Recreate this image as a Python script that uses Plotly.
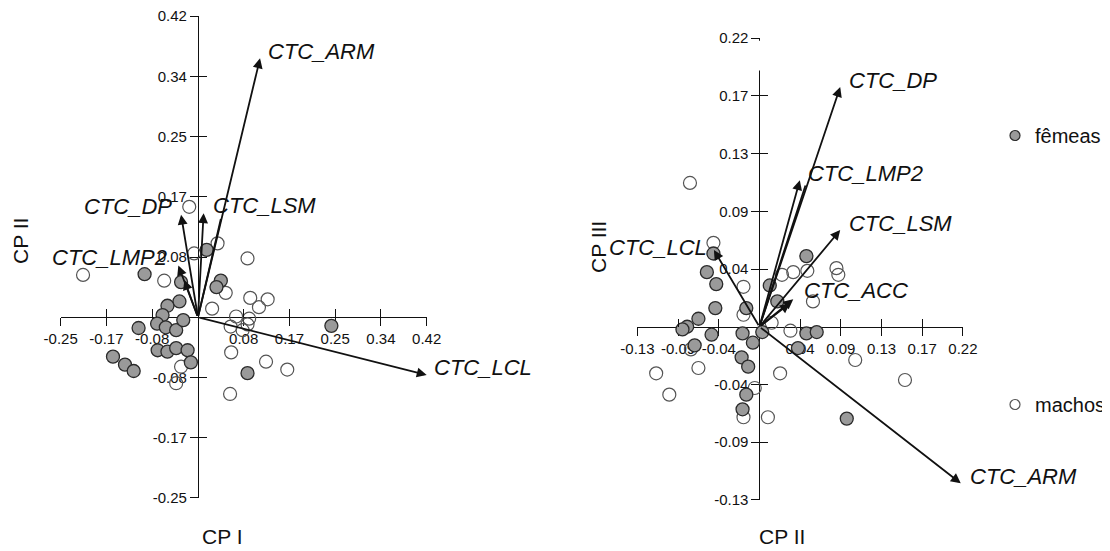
import plotly.graph_objects as go

# page offset: the figure sits 8 px in from the window's top-left corner
OFF = 8
W, H = 1110 - OFF, 551 - OFF

# ---------------- data ----------------
# tick marks (evenly spaced) and their printed labels
left_tickvals = [-0.252, -0.168, -0.084, 0.084, 0.168, 0.252, 0.336, 0.42]
left_ticktext = ["-0.25", "-0.17", "-0.08", "0.08", "0.17", "0.25", "0.34", "0.42"]
right_tickvals = [-0.13, -0.0867, -0.0433, 0.0433, 0.0867, 0.13, 0.1733, 0.2167]
right_ticktext = ["-0.13", "-0.09", "-0.04", "0.04", "0.09", "0.13", "0.17", "0.22"]
left_range = [-0.2522, 0.4202]
right_range = [-0.1302, 0.2169]

# variable loadings (arrows)  -- left panel: CP I x CP II
vars_left = ["CTC_LCL", "CTC_ARM", "CTC_DP", "CTC_LSM", "", "CTC_LMP2", ""]
load_left_cp1 = [0.420, 0.114, -0.031, 0.0104, 0.042, -0.036, -0.025]
load_left_cp2 = [-0.0805, 0.361, 0.143, 0.145, 0.137, 0.072, 0.052]

# right panel: CP II x CP III
vars_right = ["CTC_DP", "CTC_LMP2", "", "CTC_LSM", "CTC_LCL", "CTC_ACC", "", "CTC_ARM"]
load_right_cp2 = [0.086, 0.043, 0.049, 0.086, -0.0485, 0.036, 0.0325, 0.2144]
load_right_cp3 = [0.180, 0.110, 0.106, 0.0726, 0.0576, 0.0206, 0.0176, -0.1176]

# individual scores -- left panel
femeas_left_cp1 = [0.016, -0.098, 0.042, 0.034, -0.031, -0.034, -0.056, -0.065, -0.075,
                   -0.109, -0.059, -0.040, -0.027, -0.074, -0.056, -0.040, -0.019, -0.013,
                   -0.156, -0.134, -0.118, 0.091, 0.245]
femeas_left_cp2 = [0.094, 0.060, 0.051, 0.042, 0.049, 0.022, 0.016, 0.003, -0.009,
                   -0.015, -0.014, -0.018, -0.004, -0.046, -0.048, -0.043, -0.046, -0.063,
                   -0.055, -0.066, -0.075, -0.078, -0.012]
machos_left_cp1 = [-0.016, 0.036, 0.091, -0.007, -0.211, -0.062, 0.051, 0.026, 0.096,
                   0.128, 0.112, 0.070, 0.094, 0.060, 0.091, 0.082, 0.061, 0.125,
                   0.164, 0.059, -0.031, -0.040]
machos_left_cp2 = [0.154, 0.103, 0.082, 0.089, 0.059, 0.051, 0.034, 0.012, 0.027,
                   0.025, 0.014, 0.001, -0.002, -0.013, -0.010, -0.018, -0.049, -0.062,
                   -0.073, -0.107, -0.069, -0.092]

# individual scores -- right panel
femeas_right_cp2 = [-0.049, -0.056, -0.046, -0.047, -0.065, -0.077, -0.082, -0.051, -0.069,
                    -0.014, -0.018, -0.007, -0.019, -0.012, -0.014, -0.018, 0.050, 0.050,
                    0.061, 0.041, 0.093, 0.011, 0.019, 0.003]
femeas_right_cp3 = [0.055, 0.041, 0.032, 0.014, 0.006, 0.000, -0.002, -0.006, -0.014,
                    0.014, -0.005, -0.012, -0.023, -0.030, -0.051, -0.062, 0.053, -0.005,
                    -0.004, -0.016, -0.069, 0.031, 0.019, -0.004]
machos_right_cp2 = [-0.074, -0.049, -0.017, -0.017, -0.073, -0.065, -0.110, -0.096, -0.005,
                    -0.017, 0.009, 0.022, 0.033, 0.013, 0.024, 0.036, 0.051, 0.082,
                    0.084, 0.057, 0.102, 0.155]
machos_right_cp3 = [0.108, 0.063, 0.030, 0.009, -0.017, -0.031, -0.035, -0.051, -0.046,
                    -0.068, -0.068, -0.035, -0.003, 0.003, 0.039, 0.041, 0.042, 0.044,
                    0.039, 0.019, -0.025, -0.040]

legend_names = ["fêmeas", "machos"]

# ---------------- styling / layout helpers ----------------
FONT = "Arial, Liberation Sans, Helvetica, sans-serif"
INK = "#111111"
FEM_FILL = "#9a9a9a"
FEM_EDGE = "#2b2b2b"
MAC_EDGE = "#555555"


def px(p):
    """window x pixel -> paper fraction"""
    return (p - OFF) / W


def py(p):
    """window y pixel -> paper fraction"""
    return 1 - (p - OFF) / H


L_XD = [px(60.6), px(426.8)]
L_YD = [py(498.1), py(15.9)]
R_XD = [px(637.2), px(963.1)]
R_YD = [py(500.1), py(37.9)]


def zero_pos(dom, rng):
    return dom[0] + (0 - rng[0]) / (rng[1] - rng[0]) * (dom[1] - dom[0])


fig = go.Figure()

fem_marker = dict(size=13, color=FEM_FILL, line=dict(color=FEM_EDGE, width=1.3))
mac_marker = dict(size=13, color="rgba(0,0,0,0)", line=dict(color=MAC_EDGE, width=1.2))

fig.add_trace(go.Scatter(x=machos_left_cp1, y=machos_left_cp2, mode="markers",
                         marker=mac_marker, xaxis="x", yaxis="y", showlegend=False,
                         name=legend_names[1]))
fig.add_trace(go.Scatter(x=femeas_left_cp1, y=femeas_left_cp2, mode="markers",
                         marker=fem_marker, xaxis="x", yaxis="y", showlegend=False,
                         name=legend_names[0]))
fig.add_trace(go.Scatter(x=machos_right_cp2, y=machos_right_cp3, mode="markers",
                         marker=mac_marker, xaxis="x2", yaxis="y2", showlegend=False,
                         name=legend_names[1]))
fig.add_trace(go.Scatter(x=femeas_right_cp2, y=femeas_right_cp3, mode="markers",
                         marker=fem_marker, xaxis="x2", yaxis="y2", showlegend=False,
                         name=legend_names[0]))

# legend-only entries (smaller symbols like the original key)
fig.add_trace(go.Scatter(x=[None], y=[None], mode="markers", name=legend_names[0],
                         marker=dict(size=10, color=FEM_FILL, line=dict(color=FEM_EDGE, width=1.2)),
                         xaxis="x2", yaxis="y2", legendgroup="f"))
fig.add_trace(go.Scatter(x=[None], y=[None], mode="markers", name=legend_names[1],
                         marker=dict(size=10, color="rgba(0,0,0,0)", line=dict(color=MAC_EDGE, width=1.2)),
                         xaxis="x2", yaxis="y2", legendgroup="m"))

# helper traces so the opposite-side tick axes (crossing ticks) are drawn
for xa, ya in [("x3", "y"), ("x", "y3"), ("x4", "y2"), ("x2", "y4")]:
    fig.add_trace(go.Scatter(x=[None], y=[None], xaxis=xa, yaxis=ya, showlegend=False,
                             hoverinfo="skip"))

base_axis = dict(showline=True, linecolor=INK, linewidth=1, ticks="outside", ticklen=8,
                 tickwidth=1, tickcolor=INK, showgrid=False, zeroline=False,
                 tickfont=dict(family=FONT, size=15, color=INK), layer="below traces",
                 anchor="free", tickmode="array", fixedrange=True, automargin=False,
                 ticklabeloverflow="allow")
over_axis = dict(showline=False, ticks="inside", ticklen=8, tickwidth=1, tickcolor=INK,
                 showgrid=False, zeroline=False, showticklabels=False, layer="below traces",
                 anchor="free", tickmode="array", fixedrange=True, automargin=False)

lx_pos = zero_pos(L_YD, left_range)
ly_pos = zero_pos(L_XD, left_range)
rx_pos = zero_pos(R_YD, right_range)
ry_pos = zero_pos(R_XD, right_range)

fig.update_layout(
    xaxis=dict(base_axis, domain=L_XD, range=left_range, position=lx_pos,
               tickvals=left_tickvals, ticktext=left_ticktext),
    yaxis=dict(base_axis, domain=L_YD, range=left_range, position=ly_pos,
               tickvals=left_tickvals, ticktext=left_ticktext),
    xaxis2=dict(base_axis, domain=R_XD, range=right_range, position=rx_pos,
                tickvals=right_tickvals, ticktext=right_ticktext),
    yaxis2=dict(base_axis, domain=R_YD, range=right_range, position=ry_pos,
                tickvals=right_tickvals, ticktext=right_ticktext),
    xaxis3=dict(over_axis, domain=L_XD, range=left_range, position=lx_pos,
                tickvals=left_tickvals),
    yaxis3=dict(over_axis, domain=L_YD, range=left_range, position=ly_pos,
                tickvals=left_tickvals),
    xaxis4=dict(over_axis, domain=R_XD, range=right_range, position=rx_pos,
                tickvals=right_tickvals),
    yaxis4=dict(over_axis, domain=R_YD, range=right_range, position=ry_pos,
                tickvals=right_tickvals),
)

# arrows and labels
headless = {("L", 4), ("R", 2)}
label_place = {
    ("L", "CTC_LCL"): ("left", 5, 7),
    ("L", "CTC_ARM"): ("left", 6, 7),
    ("L", "CTC_DP"): ("right", -7, 8),
    ("L", "CTC_LSM"): ("left", 7, 8),
    ("L", "CTC_LMP2"): ("right", -9, 8),
    ("R", "CTC_DP"): ("left", 7, 7),
    ("R", "CTC_LMP2"): ("left", 6, 7),
    ("R", "CTC_LSM"): ("left", 7, 7),
    ("R", "CTC_LCL"): ("right", -5, 3),
    ("R", "CTC_ACC"): ("left", 9, 9),
    ("R", "CTC_ARM"): ("left", 7, 7),
}
annotations = []
for side, names, xs, ys, xr, yr in [("L", vars_left, load_left_cp1, load_left_cp2, "x", "y"),
                                     ("R", vars_right, load_right_cp2, load_right_cp3, "x2", "y2")]:
    for i, (nm, vx, vy) in enumerate(zip(names, xs, ys)):
        annotations.append(dict(x=vx, y=vy, ax=0, ay=0, xref=xr, yref=yr, axref=xr, ayref=yr,
                                text="", showarrow=True,
                                arrowhead=0 if (side, i) in headless else 2,
                                arrowsize=1.1, arrowwidth=1.8, arrowcolor=INK, standoff=0,
                                startstandoff=0))
        if nm:
            xa, dx, dy = label_place[(side, nm)]
            annotations.append(dict(x=vx, y=vy, xref=xr, yref=yr, text=nm, showarrow=False,
                                    xanchor=xa, yanchor="middle", xshift=dx, yshift=dy,
                                    font=dict(family=FONT, size=22, color=INK, style="italic")))

# axis titles
title_font = dict(family=FONT, size=21, color=INK)
annotations += [
    dict(x=px(221.7), y=py(536.7), xref="paper", yref="paper", text="CP I",
         showarrow=False, font=title_font, xanchor="center", yanchor="middle"),
    dict(x=px(20), y=py(241), xref="paper", yref="paper", text="CP II", textangle=-90,
         showarrow=False, font=title_font, xanchor="center", yanchor="middle"),
    dict(x=px(781.8), y=py(536.7), xref="paper", yref="paper", text="CP II",
         showarrow=False, font=title_font, xanchor="center", yanchor="middle"),
    dict(x=px(598), y=py(247), xref="paper", yref="paper", text="CP III", textangle=-90,
         showarrow=False, font=title_font, xanchor="center", yanchor="middle"),
]

fig.update_layout(
    width=W, height=H, margin=dict(l=0, r=0, t=0, b=0, autoexpand=False),
    paper_bgcolor="white", plot_bgcolor="rgba(0,0,0,0)",
    annotations=annotations,
    showlegend=True,
    legend=dict(x=px(995), y=py(116), xanchor="left", yanchor="top",
                font=dict(family=FONT, size=20, color=INK), traceorder="grouped",
                tracegroupgap=240, bgcolor="rgba(0,0,0,0)", borderwidth=0),
    shapes=[dict(type="rect", xref="x2", yref="y2", x0=-0.0025, x1=0.0025,
                 y0=0.1925, y1=0.2148, fillcolor="white", line=dict(width=0), layer="above")],
)

fig.write_html("out.html")
